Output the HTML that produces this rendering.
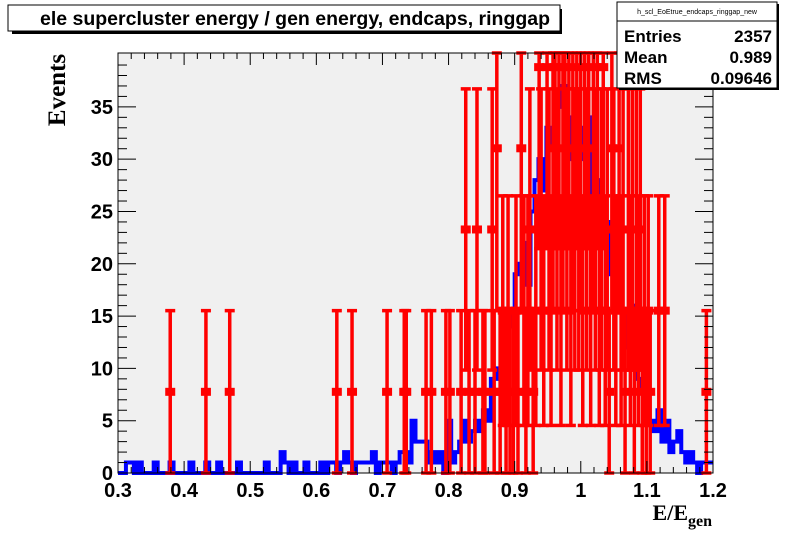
<!DOCTYPE html>
<html><head><meta charset="utf-8"><style>
body{margin:0;background:#fff}
svg{display:block}
</style></head><body>
<svg id="c" width="792" height="544" xmlns="http://www.w3.org/2000/svg">
<rect x="0" y="0" width="792" height="544" fill="#fff"/>
<rect x="118" y="53" width="595" height="420" fill="#f0f0f0"/>
<g id="blue"></g><g id="red"></g>
<rect x="118" y="53" width="595" height="420" fill="none" stroke="#000" stroke-width="1"/>
<g id="axes"></g>
<g>
<rect x="12" y="9" width="550" height="25" fill="#000"/>
<rect x="8" y="5" width="552" height="26" fill="#fff" stroke="#000"/>
<text x="295" y="25" font-family="Liberation Sans, sans-serif" font-size="19.5" font-weight="bold" text-anchor="middle">ele supercluster energy / gen energy, endcaps, ringgap</text>
</g>
<g>
<rect x="619" y="4" width="160" height="86" fill="#000"/>
<rect x="617" y="2" width="160" height="86" fill="#fff" stroke="#000"/>
<text x="697" y="14" font-family="Liberation Sans, sans-serif" font-size="7" text-anchor="middle">h_scl_EoEtrue_endcaps_ringgap_new</text>
<line x1="617" y1="21" x2="777" y2="21" stroke="#000"/>
<g font-family="Liberation Sans, sans-serif" font-size="17" font-weight="bold">
<text x="624" y="42">Entries</text><text x="772" y="42" text-anchor="end">2357</text>
<text x="624" y="63">Mean</text><text x="772" y="63" text-anchor="end">0.989</text>
<text x="624" y="84">RMS</text><text x="772" y="84" text-anchor="end">0.09646</text>
</g></g>
<text transform="translate(65,90) rotate(-90)" font-family="Liberation Serif, serif" font-size="25" font-weight="bold" text-anchor="middle">Events</text>
<text x="712" y="520" font-family="Liberation Serif, serif" font-size="22" font-weight="bold" text-anchor="end">E/E<tspan font-size="16" dy="6">gen</tspan></text>
</svg>
<script>
const xTicks=[0.3,0.4,0.5,0.6,0.7,0.8,0.9,1,1.1,1.2];
const yTicks=[0,5,10,15,20,25,30,35];
const blueStart=0.3, blueWidth=0.006;
const blueValues=[0,0,1,1,0,1,0,0,0,1,0,0,0,1,0,0,0,0,1,0,0,0,1,0,0,1,0,0,0,0,1,0,0,0,
0,0,0,1,0,0,0,2,1,0,1,0,0,1,0,0,
0,1,0,1,1,0,1,2,1,0,1,1,1,1,2,0,1,
1,1,0,1,2,2,1,5,3,3,3,1,2,1,
2,0,5,1,2,3,5,3,4,5,
4,6,5,9,10,9,8,14,15,19,
20,22,18,25,28,30,27,33,31,32,35,37,34,30,36,33,
30,34,25,28,26,22,24,19,17,18,15,12,16,10,
9,8,6,5,4,6,3,5,2,3,4,2,1,2,1,0,1,1,1];
const redWeight=7.76;
const redX=[0.379,0.433,0.469,0.631,0.654,0.707,0.733,0.736,0.766,0.774,0.796,0.802,0.819,0.826,0.831,0.840,0.843,0.852,0.855,0.866,0.869,0.873,0.878,0.882,0.887,0.890,0.893,0.898,0.902,0.905,0.910,0.914,0.917,0.920,0.923,0.928,0.932,0.937,0.940,0.944,0.949,0.952,0.955,0.958,0.961,0.964,0.967,0.970,0.973,0.976,0.979,0.982,0.985,0.988,0.991,0.994,0.997,1.000,1.003,1.006,1.009,1.012,1.015,1.019,1.022,1.025,1.028,1.031,1.034,1.037,1.040,1.043,1.047,1.050,1.053,1.058,1.061,1.064,1.067,1.072,1.075,1.078,1.081,1.084,1.087,1.090,1.093,1.096,1.099,1.102,1.105,1.118,1.127,1.190];
const redN=[1,1,1,1,1,1,1,1,1,1,1,1,1,3,1,1,3,1,1,3,1,4,1,2,1,2,1,1,2,1,4,2,1,2,3,1,2,5,3,2,5,3,2,4,5,3,5,2,4,5,3,5,2,4,3,5,3,4,2,5,3,5,2,4,3,5,2,3,5,2,3,1,4,3,2,4,2,3,1,3,2,3,1,3,2,3,1,2,1,2,1,2,2,1];
const X0=118,X1=713,Y0=473,Y1=53,xmin=0.3,xmax=1.2,ymin=0,ymax=40.15;
const sx=v=>X0+(v-xmin)/(xmax-xmin)*(X1-X0);
const sy=v=>Y0-(v-ymin)/(ymax-ymin)*(Y0-Y1);
const NS='http://www.w3.org/2000/svg';
function mk(tag,attrs,parent){const e=document.createElementNS(NS,tag);for(const k in attrs)e.setAttribute(k,attrs[k]);parent.appendChild(e);return e;}
const ax=document.getElementById('axes');
for(let i=0;i<xTicks.length;i++){
 const v=xTicks[i];const x=sx(v);
 mk('line',{x1:x,y1:Y0,x2:x,y2:Y0-12,stroke:'#000'},ax);
 mk('line',{x1:x,y1:Y1,x2:x,y2:Y1+12,stroke:'#000'},ax);
 const t=mk('text',{x:x,y:Y0+24,'text-anchor':'middle','font-family':'Liberation Sans, sans-serif','font-size':'20','font-weight':'bold'},ax);
 t.textContent=String(v);
 
 
 if(i<xTicks.length-1){for(let j=1;j<5;j++){const xm=sx(v+(xTicks[i+1]-v)*j/5);
  mk('line',{x1:xm,y1:Y0,x2:xm,y2:Y0-6,stroke:'#000'},ax);
  mk('line',{x1:xm,y1:Y1,x2:xm,y2:Y1+6,stroke:'#000'},ax);}}
}
for(let i=0;i<yTicks.length;i++){
 const v=yTicks[i];const y=sy(v);
 mk('line',{x1:X0,y1:y,x2:X0+18,y2:y,stroke:'#000'},ax);
 mk('line',{x1:X1,y1:y,x2:X1-18,y2:y,stroke:'#000'},ax);
 const t=mk('text',{x:X0-5,y:y+7,'text-anchor':'end','font-family':'Liberation Sans, sans-serif','font-size':'20','font-weight':'bold'},ax);
 t.textContent=String(v);
 
 
}
for(let v=1;v<ymax;v++){if(v%5===0)continue;const y=sy(v);
 mk('line',{x1:X0,y1:y,x2:X0+9,y2:y,stroke:'#000'},ax);
 mk('line',{x1:X1,y1:y,x2:X1-9,y2:y,stroke:'#000'},ax);}
let d='';
for(let i=0;i<blueValues.length;i++){
 const xa=sx(blueStart+i*blueWidth),xb=sx(blueStart+(i+1)*blueWidth),y=sy(blueValues[i]);
 d+=(i===0?'M'+xa+','+y:'L'+xa+','+y)+'L'+xb+','+y;
}
const bp=mk('path',{d:d,fill:'none',stroke:'#0000ff','stroke-width':'4'},document.getElementById('blue'));


const rg=document.getElementById('red');
for(let i=0;i<redX.length;i++){
 const n=redN[i],v=n*redWeight,e=Math.sqrt(n)*redWeight;
 const x=sx(redX[i]);
 const yt=Math.max(sy(Math.min(v+e,ymax)),Y1),yb=Math.min(sy(Math.max(v-e,0)),Y0),yc=sy(v);
 const g=mk('g',{},rg);
 
 
 mk('line',{x1:x,y1:yt,x2:x,y2:yb,stroke:'#ff0000','stroke-width':'3.5'},g);
 mk('line',{x1:x-5,y1:yt,x2:x+5,y2:yt,stroke:'#ff0000','stroke-width':'3.5'},g);
 mk('line',{x1:x-5,y1:yb,x2:x+5,y2:yb,stroke:'#ff0000','stroke-width':'3.5'},g);
 if(yc>=Y1) mk('rect',{x:x-5,y:yc-4,width:10,height:8,fill:'#ff0000'},g);
}
</script>
</body></html>
